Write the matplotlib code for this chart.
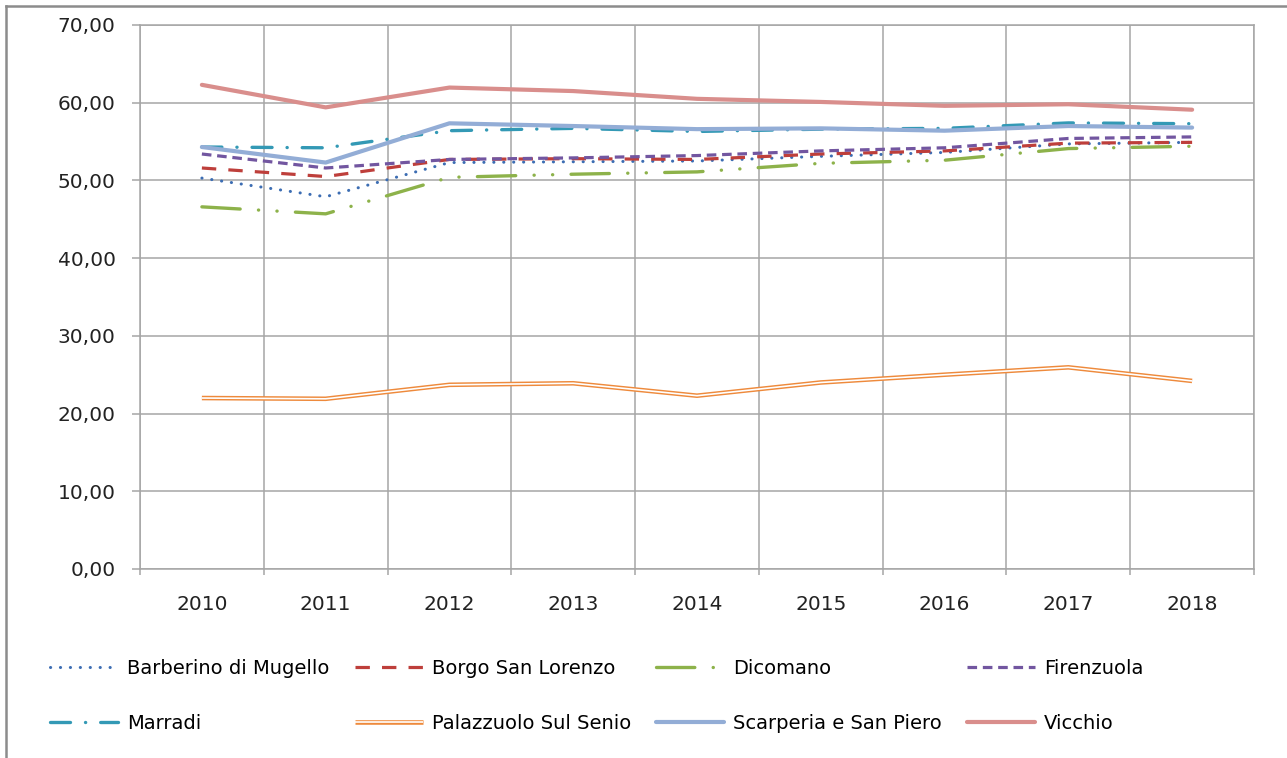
import matplotlib.pyplot as plt
import numpy as np
from matplotlib.lines import Line2D

years = ["2010", "2011", "2012", "2013", "2014", "2015", "2016", "2017", "2018"]

barberino = [50.3, 47.9, 52.3, 52.4, 52.5, 53.1, 53.6, 54.7, 54.9]
borgo = [51.6, 50.5, 52.7, 52.8, 52.7, 53.4, 53.8, 54.8, 54.9]
dicomano = [46.6, 45.7, 50.4, 50.8, 51.1, 52.2, 52.6, 54.1, 54.4]
firenzuola = [53.4, 51.6, 52.7, 52.9, 53.2, 53.8, 54.2, 55.4, 55.6]
marradi = [54.3, 54.2, 56.4, 56.7, 56.3, 56.6, 56.7, 57.4, 57.3]
palazzuolo = [22.0, 21.9, 23.7, 23.9, 22.3, 24.0, 25.0, 25.95, 24.2]
scarperia = [54.3, 52.3, 57.35, 57.0, 56.6, 56.7, 56.4, 57.0, 56.8]
vicchio = [62.3, 59.4, 61.95, 61.5, 60.5, 60.1, 59.6, 59.8, 59.1]

GRID = "#a6a6a6"


def main():
    fig = plt.figure(figsize=(12.87, 7.58), dpi=100)
    ax = fig.add_axes([140 / 1287, 1 - 569 / 758, (1254 - 140) / 1287, (569 - 25) / 758])
    x = np.arange(len(years))

    kw = dict(solid_capstyle="round", dash_capstyle="round")
    h_barb, = ax.plot(x, barberino, color="#3c6db3", lw=2.2,
                      linestyle=(0, (0.05, 3.2)), **kw)
    h_borgo, = ax.plot(x, borgo, color="#be3f3b", lw=2.3,
                       linestyle=(0, (4.5, 3.8)), dash_capstyle="butt")
    h_dico, = ax.plot(x, dicomano, color="#8db24a", lw=2.4,
                      linestyle=(0, (11.5, 5.5, 0.05, 5.5, 0.05, 5.5)), **kw)
    h_fire, = ax.plot(x, firenzuola, color="#7256a0", lw=2.3,
                      linestyle=(0, (3.0, 1.8)), dash_capstyle="butt")
    h_marr, = ax.plot(x, marradi, color="#3399b5", lw=2.4,
                      linestyle=(0, (6.0, 4.5, 0.05, 4.5)), **kw)
    h_pal1, = ax.plot(x, palazzuolo, color="#ee8a3c", lw=3.3, solid_capstyle="butt")
    h_pal2, = ax.plot(x, palazzuolo, color="white", lw=1.2, solid_capstyle="butt")
    h_scar, = ax.plot(x, scarperia, color="#93add6", lw=3.0, **kw)
    h_vicc, = ax.plot(x, vicchio, color="#d98e8c", lw=3.0, **kw)

    ax.set_xlim(-0.5, len(years) - 0.5)
    ax.set_ylim(0, 70)
    ax.set_yticks(np.arange(0, 71, 10))
    ax.set_yticklabels([f"{v:.2f}".replace(".", ",") for v in np.arange(0, 71, 10)])
    ax.set_xticks(x)
    ax.set_xticklabels(years)
    ax.set_xticks(np.arange(-0.5, len(years), 1), minor=True)

    ax.grid(True, axis="y", which="major", color=GRID, lw=1.1)
    ax.grid(True, axis="x", which="minor", color=GRID, lw=1.1)
    ax.set_axisbelow(True)
    for s in ax.spines.values():
        s.set_color(GRID)
        s.set_linewidth(1.1)

    ax.tick_params(axis="y", length=6, width=1.1, color=GRID, pad=11.5,
                   labelsize=14.5, labelcolor="#222222")
    ax.tick_params(axis="x", which="major", length=0, pad=19,
                   labelsize=14.5, labelcolor="#222222")
    ax.tick_params(axis="x", which="minor", length=4.5, width=1.1, color=GRID)

    # outer chart frame (top and left edges visible)
    fig.add_artist(Line2D([6 / 1287, 1.0], [1 - 6 / 758, 1 - 6 / 758],
                          color="#8c8c8c", lw=1.8, transform=fig.transFigure))
    fig.add_artist(Line2D([6 / 1287, 6 / 1287], [0, 1 - 6 / 758],
                          color="#8c8c8c", lw=1.8, transform=fig.transFigure))

    handles = [h_barb, h_marr, h_borgo, (h_pal1, h_pal2),
               h_dico, h_scar, h_fire, h_vicc]
    labels = ["Barberino di Mugello", "Marradi", "Borgo San Lorenzo",
              "Palazzuolo Sul Senio", "Dicomano", "Scarperia e San Piero",
              "Firenzuola", "Vicchio"]
    fig.legend(handles, labels, ncol=4, loc="upper left",
               bbox_to_anchor=(50 / 1287, 1 - 659 / 758),
               frameon=False, fontsize=14, handlelength=3.5, handletextpad=0.46,
               columnspacing=1.3, labelspacing=1.85, borderpad=0, borderaxespad=0)

    fig.savefig("out.png", dpi=100)


if __name__ == "__main__":
    main()
